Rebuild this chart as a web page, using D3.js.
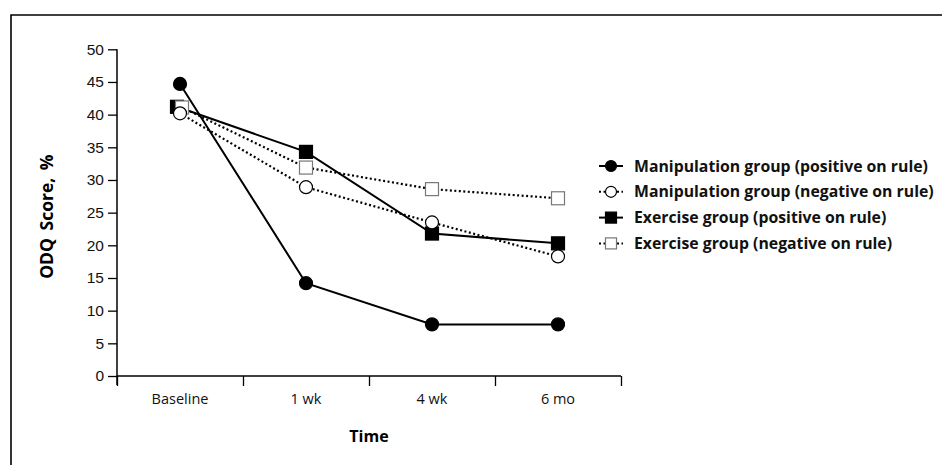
<!DOCTYPE html>
<html>
<head>
<meta charset="utf-8">
<script src="https://cdn.jsdelivr.net/npm/d3@7"></script>
<style>
    body { margin: 0; background: #fff; overflow: hidden; }
    svg { display: block; font-family: "Open Sans", "Noto Sans", sans-serif; }
</style>
</head>
<body>
<svg id="chart" width="942" height="465"></svg>
<script>
// Chart data.
const timepoints = ["Baseline", "1 wk", "4 wk", "6 mo"];
const yTicks = [0, 5, 10, 15, 20, 25, 30, 35, 40, 45, 50];

const manipPositive = [44.7, 14.2, 7.9, 7.9];
const manipNegative = [40.2, 28.9, 23.5, 18.3];
const exercisePositive = [41.2, 34.3, 21.8, 20.3];
const exerciseNegative = [41.1, 31.9, 28.6, 27.2];

const seriesNames = [
    "Exercise group (positive on rule)",
    "Exercise group (negative on rule)",
    "Manipulation group (negative on rule)",
    "Manipulation group (positive on rule)"
];

// Legend goes in a different order than the drawing order.
const legendOrder = [
    "Manipulation group (positive on rule)",
    "Manipulation group (negative on rule)",
    "Exercise group (positive on rule)",
    "Exercise group (negative on rule)"
];

function draw() {
    const svg = d3.select("#chart");

    // Frame around the figure (open on the right and bottom).
    svg.append("path")
        .attr("d", "M11,466 L11,15 L943,15")
        .attr("fill", "none")
        .attr("stroke", "#000")
        .attr("stroke-width", 1.6);

    const left = 117, right = 621, top = 49.3, bottom = 376;

    const x = d3.scaleBand().domain(timepoints).range([left, right]).padding(0);
    const xEdge = d3.scaleLinear().domain([0, timepoints.length]).range([left, right]);
    const y = d3.scaleLinear().domain([0, 50]).range([bottom, top]);

    // Styling per series, kept apart from the values.
    const styles = {
        "Manipulation group (positive on rule)": { values: manipPositive, shape: "circle", fill: "#000", stroke: "#000", dash: null, nudge: 0 },
        "Manipulation group (negative on rule)": { values: manipNegative, shape: "circle", fill: "#fff", stroke: "#000", dash: "2,2.5", nudge: 0 },
        "Exercise group (positive on rule)": { values: exercisePositive, shape: "square", fill: "#000", stroke: "#000", dash: null, nudge: -3 },
        "Exercise group (negative on rule)": { values: exerciseNegative, shape: "square", fill: "#fff", stroke: "#777", dash: "2,2.5", nudge: 2 }
    };

    // Y axis.
    const yAxis = svg.append("g")
        .attr("transform", `translate(${left},0)`)
        .call(d3.axisLeft(y).tickValues(yTicks).tickSize(9).tickSizeOuter(0).tickPadding(4));
    yAxis.select(".domain").remove();
    yAxis.selectAll("line").attr("stroke", "#000").attr("stroke-width", 1.3);
    yAxis.selectAll("text").attr("font-size", 15.5).attr("fill", "#111");
    svg.append("line")
        .attr("x1", left).attr("x2", left)
        .attr("y1", y(50)).attr("y2", bottom + 9)
        .attr("stroke", "#000").attr("stroke-width", 1.5);

    // X axis: ticks at the category edges, labels at the centres.
    const xAxis = svg.append("g")
        .attr("transform", `translate(0,${bottom})`)
        .call(d3.axisBottom(xEdge).ticks(timepoints.length).tickSize(10).tickSizeOuter(0).tickFormat(""));
    xAxis.select(".domain").attr("d", `M${left},0H${right}`).attr("stroke", "#000").attr("stroke-width", 1.5);
    xAxis.selectAll("line").attr("stroke", "#000").attr("stroke-width", 1.3);

    svg.append("g")
        .selectAll("text")
        .data(timepoints)
        .join("text")
        .attr("x", d => x(d) + x.bandwidth() / 2)
        .attr("y", bottom + 28)
        .attr("text-anchor", "middle")
        .attr("font-size", 14.5)
        .attr("fill", "#111")
        .text(d => d);

    // Axis titles.
    svg.append("text")
        .attr("x", x("4 wk"))
        .attr("y", 442)
        .attr("text-anchor", "middle")
        .attr("font-size", 16)
        .attr("font-weight", "bold")
        .text("Time");

    svg.append("text")
        .attr("transform", `translate(53,${(top + bottom) / 2 + 4}) rotate(-90)`)
        .attr("text-anchor", "middle")
        .attr("font-size", 17.5)
        .attr("font-weight", "bold")
        .attr("word-spacing", 3)
        .text("ODQ Score, %");

    const px = (name, i) => x(timepoints[i]) + x.bandwidth() / 2 + (i == 0 ? styles[name].nudge : 0);

    // Lines.
    const line = d3.line().x(d => d.x).y(d => d.y);
    for (const name of seriesNames) {
        const s = styles[name];
        const pts = s.values.map((v, i) => ({ x: px(name, i), y: y(v) }));
        svg.append("path")
            .datum(pts)
            .attr("d", line)
            .attr("fill", "none")
            .attr("stroke", "#000")
            .attr("stroke-width", s.dash ? 2.2 : 2)
            .attr("stroke-dasharray", s.dash);
    }

    // Markers, drawn after all lines.
    const drawMarker = (g, shape, cx, cy, size, fill, stroke) => {
        if (shape == "circle") {
            g.append("circle")
                .attr("cx", cx).attr("cy", cy).attr("r", size / 2)
                .attr("fill", fill).attr("stroke", stroke).attr("stroke-width", 1.2);
        } else {
            g.append("rect")
                .attr("x", cx - size / 2).attr("y", cy - size / 2)
                .attr("width", size).attr("height", size)
                .attr("fill", fill).attr("stroke", stroke).attr("stroke-width", 1.2);
        }
    };

    const marks = svg.append("g");
    for (const name of seriesNames) {
        const s = styles[name];
        s.values.forEach((v, i) => drawMarker(marks, s.shape, px(name, i), y(v), 13, s.fill, s.stroke));
    }

    // Legend.
    const legend = svg.append("g");
    legendOrder.forEach((name, i) => {
        const s = styles[name],
            ly = 166 + i * 25.8;
        legend.append("line")
            .attr("x1", 599).attr("x2", 623)
            .attr("y1", ly).attr("y2", ly)
            .attr("stroke", "#000")
            .attr("stroke-width", 2)
            .attr("stroke-dasharray", s.dash);
        drawMarker(legend, s.shape, 611, ly, 11, s.fill, s.stroke);
        legend.append("text")
            .attr("x", 634)
            .attr("y", ly)
            .attr("dy", "0.36em")
            .attr("font-size", 15.8)
            .attr("font-weight", "bold")
            .attr("fill", "#111")
            .text(name);
    });
}

draw();
</script>
</body>
</html>
